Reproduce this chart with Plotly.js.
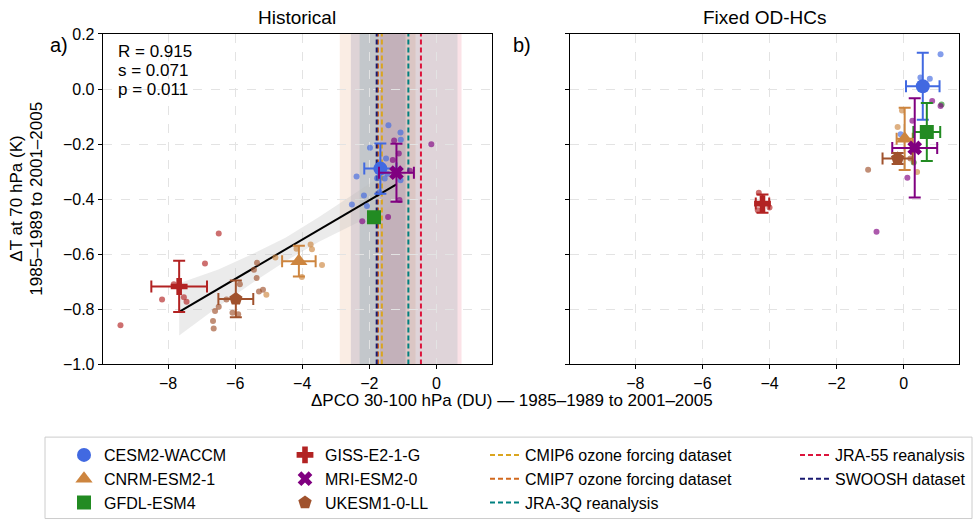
<!DOCTYPE html>
<html>
<head>
<meta charset="utf-8">
<script src="https://cdn.plot.ly/plotly-3.0.1.min.js"></script>
<style>html,body{margin:0;padding:0;background:#fff;}#chart{width:976px;height:520px;}</style>
</head>
<body>
<div id="chart"></div>
<script>
// ---------------- data ----------------
const models = ['CESM2-WACCM','CNRM-ESM2-1','GFDL-ESM4','GISS-E2-1-G','MRI-ESM2-0','UKESM1-0-LL'];
const modelColors = ['#4169E1','#CD853F','#228B22','#B22222','#800080','#A0522D'];
const modelSymbols = ['circle','triangle-up','square','cross','x','pentagon'];

// Historical ensemble means and spreads
const histMeanX = [-1.67, -4.10, -1.86, -7.67, -1.19, -5.98];
const histMeanY = [-0.289, -0.625, -0.466, -0.717, -0.304, -0.762];
const histErrX  = [0.48, 0.50, 0.0, 0.83, 0.52, 0.52];
const histErrY  = [0.091, 0.056, 0.0, 0.093, 0.105, 0.067];

// Fixed OD-HCs ensemble means and spreads
const fixMeanX = [0.57, 0.03, 0.69, -4.21, 0.33, -0.18];
const fixMeanY = [0.010, -0.181, -0.156, -0.416, -0.214, -0.252];
const fixErrX  = [0.50, 0.24, 0.40, 0.20, 0.67, 0.45];
const fixErrY  = [0.122, 0.113, 0.105, 0.033, 0.18, 0.02];

// Historical members
const histCesmX = [-1.43,-1.07,-1.06,-1.98,-2.38,-2.16,-2.52,-2.07,-1.50,-1.46,-1.54,-1.77,-1.07,-1.70];
const histCesmY = [-0.132,-0.158,-0.184,-0.213,-0.318,-0.387,-0.419,-0.425,-0.252,-0.308,-0.325,-0.324,-0.331,-0.375];
const histCnrmX = [-4.80,-5.07,-3.75,-3.71,-3.41,-4.01,-4.17];
const histCnrmY = [-0.612,-0.747,-0.565,-0.582,-0.639,-0.683,-0.580];
const histGfdlX = [-1.75];
const histGfdlY = [-0.462];
const histGissX = [-6.49,-6.90,-8.18,-9.42,-7.53,-7.45,-7.83];
const histGissY = [-0.525,-0.634,-0.764,-0.858,-0.756,-0.772,-0.709];
const histMriX = [-1.26,-1.12,-1.30,-0.15,-2.21,-1.44,-0.79,-1.10,-1.25];
const histMriY = [-0.187,-0.234,-0.258,-0.201,-0.480,-0.465,-0.297,-0.403,-0.31];
const histUkX = [-5.35,-5.44,-5.36,-5.29,-5.17,-5.86,-6.26,-6.49,-6.60,-6.66,-6.64,-6.08,-5.91];
const histUkY = [-0.631,-0.656,-0.686,-0.735,-0.729,-0.709,-0.764,-0.791,-0.806,-0.842,-0.870,-0.812,-0.818];

// Fixed OD-HCs members
const fixCesmX = [1.10, 0.50, 0.78, -0.09];
const fixCesmY = [0.126, 0.042, 0.037, -0.164];
const fixCnrmX = [-0.05, -0.18, 0.40];
const fixCnrmY = [-0.078, -0.138, -0.301];
const fixGfdlX = [1.13, 0.30];
const fixGfdlY = [-0.056, -0.267];
const fixGissX = [-4.32, -4.00, -4.35];
const fixGissY = [-0.377, -0.430, -0.440];
const fixMriX = [0.85, 1.10, 0.26, 0.11, -0.81];
const fixMriY = [-0.044, -0.062, -0.115, -0.322, -0.518];
const fixUkX = [-1.06, 0.20];
const fixUkY = [-0.293, -0.252];

// Regression fit and its confidence band (Historical)
const fitX = [-7.67, -1.19];
const fitY = [-0.809, -0.346];
const bandX = [-7.67, -6.5, -5.5, -4.5, -3.5, -2.5, -1.19];
const bandLow = [-0.895, -0.79, -0.705, -0.625, -0.555, -0.495, -0.415];
const bandHigh = [-0.705, -0.655, -0.600, -0.540, -0.465, -0.385, -0.280];

// Observational / forcing datasets
const refNames = ['CMIP6 ozone forcing dataset','CMIP7 ozone forcing dataset','JRA-3Q reanalysis','JRA-55 reanalysis','SWOOSH dataset'];
const refColors = ['#DAA520','#D2691E','#008080','#DC143C','#191970'];
const refValues = [-1.625, -1.74, -0.835, -0.46, -1.78];
const refLow = [null, -2.88, -2.29, -1.68, -2.55];
const refHigh = [null, -0.62, 0.63, 0.75, -0.92];

const statsText = ['R = 0.915','s = 0.071','p = 0.011'];
const panelTitles = ['Historical','Fixed OD-HCs'];
const panelLabels = ['a)','b)'];
const xTitle = 'ΔPCO 30-100 hPa (DU) — 1985–1989 to 2001–2005';
const yTitleLines = ['ΔT at 70 hPa (K)','1985–1989 to 2001–2005'];

const xRange = [-9.95, 1.65];
const yRange = [-1.0, 0.2];

// ---------------- build ----------------
const W = 976, H = 520;
const FONT = 'Liberation Sans, Arial, sans-serif';
const px = v => v / W;
const py = v => 1 - v / H;

function rgba(hex, a){
  const n = parseInt(hex.slice(1),16);
  return 'rgba(' + ((n>>16)&255) + ',' + ((n>>8)&255) + ',' + (n&255) + ',' + a + ')';
}

const traces = [];

// regression band + line
traces.push({x: bandX, y: bandLow, xaxis:'x', yaxis:'y', mode:'lines', line:{width:0, color:'rgba(0,0,0,0)'}, showlegend:false, hoverinfo:'skip'});
traces.push({x: bandX, y: bandHigh, xaxis:'x', yaxis:'y', mode:'lines', fill:'tonexty', fillcolor:'rgba(190,190,190,0.3)', line:{width:0, color:'rgba(0,0,0,0)'}, showlegend:false, hoverinfo:'skip'});

// dataset dashed lines (left panel)
const refLegend = ['legend3','legend3','legend3','legend4','legend4'];
refNames.forEach((n,i) => {
  traces.push({x:[refValues[i], refValues[i]], y: yRange, xaxis:'x', yaxis:'y', mode:'lines',
    line:{color: refColors[i], width:2, dash:'5px,3px'}, name:n, legend: refLegend[i], hoverinfo:'skip'});
});

traces.push({x: fitX, y: fitY, xaxis:'x', yaxis:'y', mode:'lines', line:{color:'#000', width:2}, showlegend:false});

// members
const histMembers = [[histCesmX,histCesmY],[histCnrmX,histCnrmY],[histGfdlX,histGfdlY],[histGissX,histGissY],[histMriX,histMriY],[histUkX,histUkY]];
const fixMembers = [[fixCesmX,fixCesmY],[fixCnrmX,fixCnrmY],[fixGfdlX,fixGfdlY],[fixGissX,fixGissY],[fixMriX,fixMriY],[fixUkX,fixUkY]];
histMembers.forEach((m,i) => traces.push({x:m[0], y:m[1], xaxis:'x', yaxis:'y', mode:'markers',
  marker:{size:6, color: rgba(modelColors[i],0.65)}, showlegend:false}));
fixMembers.forEach((m,i) => traces.push({x:m[0], y:m[1], xaxis:'x2', yaxis:'y2', mode:'markers',
  marker:{size:6, color: rgba(modelColors[i],0.65)}, showlegend:false}));

// means with error bars
const modelLegend = ['legend','legend','legend','legend2','legend2','legend2'];
models.forEach((n,i) => {
  const sz = modelSymbols[i]==='triangle-up' ? 15 : (modelSymbols[i]==='x' ? 13 : 14);
  const common = {mode:'markers', marker:{size: sz, color: modelColors[i], symbol: modelSymbols[i], line:{width:0}}};
  traces.push(Object.assign({}, common, {x:[histMeanX[i]], y:[histMeanY[i]], xaxis:'x', yaxis:'y', name:n, legend: modelLegend[i],
    error_x:{type:'data', array:[histErrX[i]], color:modelColors[i], thickness:2, width:6, visible: histErrX[i]>0},
    error_y:{type:'data', array:[histErrY[i]], color:modelColors[i], thickness:2, width:6, visible: histErrY[i]>0}}));
  traces.push(Object.assign({}, common, {x:[fixMeanX[i]], y:[fixMeanY[i]], xaxis:'x2', yaxis:'y2', name:n, showlegend:false,
    error_x:{type:'data', array:[fixErrX[i]], color:modelColors[i], thickness:2, width:6},
    error_y:{type:'data', array:[fixErrY[i]], color:modelColors[i], thickness:2, width:6}}));
});

// shaded dataset ranges
const shapes = [];
refNames.forEach((n,i) => {
  if (refLow[i] === null) return;
  shapes.push({type:'rect', xref:'x', yref:'y domain', x0: refLow[i], x1: refHigh[i], y0:0, y1:1,
    fillcolor: rgba(refColors[i], 0.12), line:{width:0}, layer:'below'});
});
// legend frame
shapes.push({type:'rect', xref:'paper', yref:'paper', x0: px(45), x1: px(972), y0: py(535), y1: py(451),
  line:{color:'#cccccc', width:1}, fillcolor:'rgba(255,255,255,0.9)', layer:'below'});

const axisCommon = {
  showline:true, mirror:true, linecolor:'#000', linewidth:1,
  ticks:'outside', ticklen:4, tickcolor:'#000', showgrid:true, gridcolor:'#e3e3e3', griddash:'dash', gridwidth:1,
  zeroline:false, tickfont:{family:FONT, size:16, color:'#000'}
};

const ann = (text, x, y, size, extra) => Object.assign({text:text, xref:'paper', yref:'paper', x:px(x), y:py(y),
  xanchor:'center', yanchor:'middle', showarrow:false, font:{size:size, family:FONT, color:'#000'}}, extra || {});

const layout = {
  width: W, height: H,
  margin:{l:0, r:0, t:0, b:0},
  paper_bgcolor:'#fff', plot_bgcolor:'#fff',
  font:{family:FONT, color:'#000'},
  showlegend:true,
  xaxis: Object.assign({}, axisCommon, {domain:[px(102.7), px(491.7)], range:xRange, tick0:0, dtick:2, anchor:'y'}),
  yaxis: Object.assign({}, axisCommon, {domain:[py(376), py(35)], range:yRange, tick0:0, dtick:0.2, tickformat:'.1f', anchor:'x'}),
  xaxis2: Object.assign({}, axisCommon, {domain:[px(570), px(959)], range:xRange, tick0:0, dtick:2, anchor:'y2'}),
  yaxis2: Object.assign({}, axisCommon, {domain:[py(376), py(35)], range:yRange, tick0:0, dtick:0.2, anchor:'x2', showticklabels:false}),
  shapes: shapes,
  annotations: [
    ann(panelTitles[0], 297, 18, 19),
    ann(panelTitles[1], 765, 18, 19),
    ann(panelLabels[0], 59, 46, 20),
    ann(panelLabels[1], 522, 46, 20),
    ann(statsText[0], 116, 53, 17, {xanchor:'left'}),
    ann(statsText[1], 116, 72.5, 17, {xanchor:'left'}),
    ann(statsText[2], 116, 92, 17, {xanchor:'left'}),
    ann(xTitle, 512, 413, 17),
    ann(yTitleLines[0], 17, 205, 17, {textangle:-90}),
    ann(yTitleLines[1], 37, 205, 17, {textangle:-90})
  ]
};

const legBase = {orientation:'v', xanchor:'left', yanchor:'top', y: py(452), bgcolor:'rgba(0,0,0,0)', borderwidth:0,
  font:{family:FONT, size:16, color:'#000'}, tracegroupgap:0, itemwidth:30, traceorder:'normal'};
layout.legend  = Object.assign({}, legBase, {x: px(64)});
layout.legend2 = Object.assign({}, legBase, {x: px(285)});
layout.legend3 = Object.assign({}, legBase, {x: px(485)});
layout.legend4 = Object.assign({}, legBase, {x: px(795)});

Plotly.newPlot('chart', traces, layout, {displayModeBar:false, staticPlot:true});
</script>
</body>
</html>
